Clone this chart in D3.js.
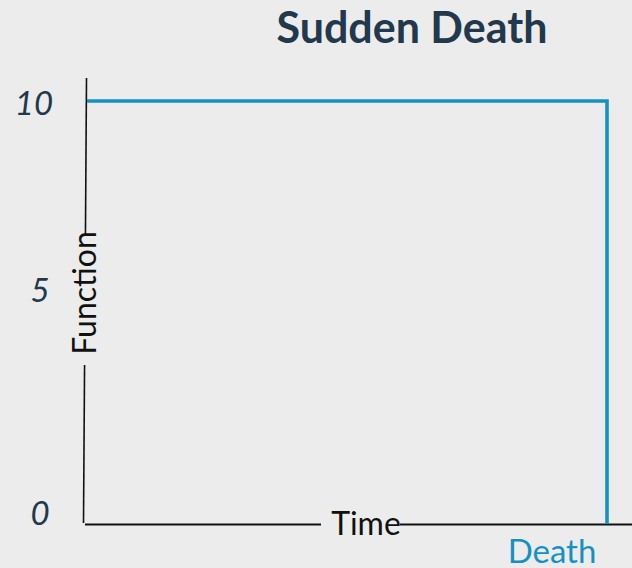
<!DOCTYPE html>
<html>
<head>
<meta charset="utf-8">
<script src="https://cdn.jsdelivr.net/npm/d3@7"></script>
<style>
  html, body { margin: 0; padding: 0; background: #ececec; }
  svg { display: block; font-family: Lato, "Open Sans", sans-serif; }
</style>
</head>
<body>
<svg id="chart" width="632" height="568"></svg>
<script>
// Sudden Death: full function until the moment of death, then zero
const title = "Sudden Death";
const timeSteps = [0, 100, 100];
const functionValues = [10, 10, 0];
const yTicks = [0, 5, 10];
const xLabel = "Time";
const yLabel = "Function";
const eventLabel = "Death";

const W = 632, H = 568;
const ink = "#22384d";
const blue = "#1491c4";

const svg = d3.select("#chart");
svg.append("rect").attr("width", W).attr("height", H).attr("fill", "#ececec");

// data scales
const x = d3.scaleLinear().domain([0, 100]).range([87, 607]);
const y = d3.scaleLinear().domain([0, 10]).range([524, 101]);
// tick labels sit where the sketch put them
const yLab = d3.scaleLinear().domain([0, 5, 10]).range([513, 290, 103]);

svg.append("text")
  .attr("x", 412).attr("y", 43)
  .attr("text-anchor", "middle")
  .attr("font-size", 43).attr("font-weight", 700)
  .attr("fill", ink)
  .text(title);

// hand-drawn axes
svg.append("line")
  .attr("x1", 86.5).attr("y1", 78).attr("x2", 83.5).attr("y2", 523)
  .attr("stroke", "#111").attr("stroke-width", 1.6);
svg.append("line")
  .attr("x1", 85).attr("y1", 524.5).attr("x2", W).attr("y2", 524.5)
  .attr("stroke", "#111").attr("stroke-width", 2);

svg.selectAll(".ytick")
  .data(yTicks)
  .join("text")
  .attr("class", "ytick")
  .attr("x", d => d === 10 ? 34 : 40)
  .attr("y", d => yLab(d))
  .attr("dy", "0.36em")
  .attr("text-anchor", "middle")
  .attr("font-size", 33).attr("font-style", "italic")
  .attr("fill", ink)
  .text(d => d);

// the curve
const line = d3.line().x(d => x(d[0])).y(d => y(d[1])).curve(d3.curveLinear);
svg.append("path")
  .datum(d3.zip(timeSteps, functionValues))
  .attr("d", line)
  .attr("fill", "none")
  .attr("stroke", blue)
  .attr("stroke-width", 3.6);

// axis labels knocked out of the axis lines
svg.append("rect")
  .attr("x", 321).attr("y", 511).attr("width", 79).attr("height", 28)
  .attr("fill", "#ececec");
svg.append("text")
  .attr("x", 366).attr("y", 535)
  .attr("text-anchor", "middle")
  .attr("font-size", 32).attr("fill", "#111")
  .text(xLabel);

svg.append("rect")
  .attr("x", 70).attr("y", 234).attr("width", 28).attr("height", 131)
  .attr("fill", "#ececec");
svg.append("text")
  .attr("transform", "translate(96,293) rotate(-90)")
  .attr("text-anchor", "middle")
  .attr("font-size", 32).attr("fill", "#111")
  .text(yLabel);

svg.append("text")
  .attr("x", x(timeSteps[2]) - 55).attr("y", 563)
  .attr("text-anchor", "middle")
  .attr("font-size", 33).attr("fill", blue)
  .text(eventLabel);
</script>
</body>
</html>
